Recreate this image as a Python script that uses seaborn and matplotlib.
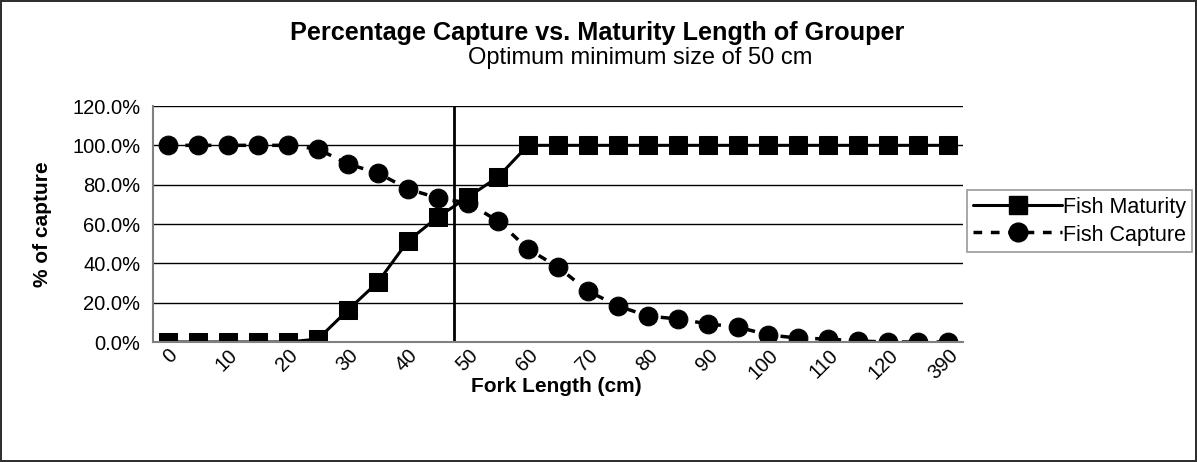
import matplotlib
matplotlib.use("Agg")
import matplotlib.pyplot as plt
import seaborn as sns
import pandas as pd
import numpy as np
from matplotlib.lines import Line2D
from matplotlib.ticker import FuncFormatter

categories = ["0", "5", "10", "15", "20", "25", "30", "35", "40", "45", "50", "55", "60",
              "65", "70", "75", "80", "85", "90", "95", "100", "105", "110", "115", "120",
              "125", "390"]
maturity = [0.0, 0.0, 0.0, 0.0, 0.0, 0.015, 0.163, 0.305, 0.514, 0.636, 0.737, 0.839, 1.0,
            1.0, 1.0, 1.0, 1.0, 1.0, 1.0, 1.0, 1.0, 1.0, 1.0, 1.0, 1.0, 1.0, 1.0]
capture = [1.0, 1.0, 1.0, 1.0, 1.0, 0.981, 0.905, 0.859, 0.778, 0.732, 0.707, 0.615, 0.473,
           0.381, 0.259, 0.183, 0.132, 0.117, 0.092, 0.076, 0.036, 0.02, 0.015, 0.005,
           0.0, 0.0, 0.0]
optimum_pos = 9.55

sns.set_theme(style="white")
plt.rcParams["font.family"] = ["Liberation Sans", "DejaVu Sans"]
plt.rcParams["text.color"] = "black"
plt.rcParams["axes.labelcolor"] = "black"
plt.rcParams["xtick.color"] = "black"
plt.rcParams["ytick.color"] = "black"

df = pd.DataFrame({"pos": np.arange(len(categories)), "Fish Maturity": maturity,
                   "Fish Capture": capture})

fig = plt.figure(figsize=(11.97, 4.62), dpi=100, facecolor="white",
                 edgecolor="#303030", linewidth=1.5)
ax = fig.add_axes([153/1197, 1-342/462, (963-153)/1197, (342-106)/462])

sns.lineplot(data=df, x="pos", y="Fish Maturity", ax=ax, color="black", lw=2.2,
             marker="s", markersize=13, markeredgecolor="black", label="_nolegend_")
sns.lineplot(data=df, x="pos", y="Fish Capture", ax=ax, color="black", lw=2.5,
             linestyle=(0, (2.5, 2.5)), marker="o", markersize=13.5,
             markeredgecolor="black", label="_nolegend_")
ax.axvline(optimum_pos, color="black", lw=2)

ax.set_xlim(-0.5, len(categories)-0.5)
ax.set_ylim(0, 1.2)
ax.set_yticks(np.arange(0, 1.21, 0.2))
ax.yaxis.set_major_formatter(FuncFormatter(lambda v, p: f"{v*100:.1f}%"))
ax.grid(axis="y", color="black", lw=1)
ax.set_axisbelow(True)

ax.set_xticks(np.arange(0, len(categories), 2))
ax.set_xticklabels(categories[::2], rotation=45, ha="right", va="top",
                   rotation_mode="anchor", fontsize=14.5)
ax.set_xticks(np.arange(-0.5, len(categories), 1), minor=True)
ax.tick_params(axis="x", which="major", length=0, pad=2.5)
ax.tick_params(axis="x", which="minor", length=5, width=1, color="#808080", direction="out")
ax.tick_params(axis="y", length=5, width=1, color="#808080", direction="out",
               labelsize=14.5, pad=4, labelcolor="black")
ax.tick_params(axis="x", labelcolor="black")

for s in ["top", "right"]:
    ax.spines[s].set_visible(False)
for s in ["left", "bottom"]:
    ax.spines[s].set_color("#808080")
    ax.spines[s].set_linewidth(1.5)

ax.set_xlabel("")
ax.set_ylabel("")
fig.text(42/1197, 1-224/462, "% of capture", rotation=90, ha="center", va="center",
         fontsize=15, fontweight="bold")
fig.text(556/1197, 1-386/462, "Fork Length (cm)", ha="center", va="center",
         fontsize=15, fontweight="bold")
fig.text(597/1197, 1-33/462, "Percentage Capture vs. Maturity Length of Grouper",
         ha="center", va="center", fontsize=18.2, fontweight="bold")
fig.text(640/1197, 1-58/462, "Optimum minimum size of 50 cm", ha="center", va="center",
         fontsize=17)

handles = [Line2D([], [], color="black", lw=2.2, marker="s", markersize=13),
           Line2D([], [], color="black", lw=2.5, linestyle=(0, (2.5, 2.5)), marker="o",
                  markersize=13.5)]
leg = fig.legend(handles, ["Fish Maturity", "Fish Capture"], loc="center left",
                 bbox_to_anchor=(967/1197, 1-221/462), frameon=True, fancybox=False,
                 fontsize=15.5, handlelength=4.1, handletextpad=0.05, borderpad=0.3,
                 labelspacing=0.3, borderaxespad=0, handleheight=0.9)
leg.get_frame().set_edgecolor("#808080")
leg.get_frame().set_linewidth(1.2)

fig.savefig("out.png", dpi=100)
